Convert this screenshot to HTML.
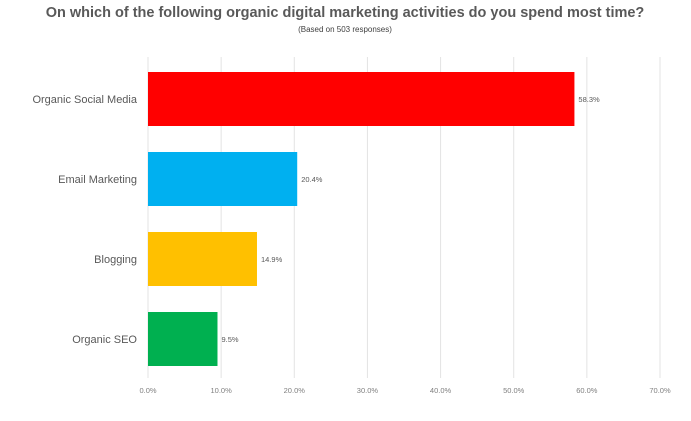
<!DOCTYPE html>
<html><head><meta charset="utf-8"><style>
body{margin:0;background:#fff;font-family:"Liberation Sans",sans-serif;}
</style></head><body>
<svg width="691" height="416" xmlns="http://www.w3.org/2000/svg">
<text x="345" y="17" text-anchor="middle" font-size="14.5" font-weight="bold" fill="#595959">On which of the following organic digital marketing activities do you spend most time?</text>
<text x="345" y="32" text-anchor="middle" font-size="8" fill="#404040">(Based on 503 responses)</text>
<g id="grid"></g><g id="bars"></g>
</svg>
<script>
const categories=["Organic Social Media","Email Marketing","Blogging","Organic SEO"];
const values=[58.3,20.4,14.9,9.5];
const colors=["#ff0000","#00b0f0","#ffc000","#00b050"];
const ticks=[0,10,20,30,40,50,60,70];
const NS="http://www.w3.org/2000/svg";
const x0=148,x1=660,xmax=70;
const xs=v=>x0+(v/xmax)*(x1-x0);
const ys=i=>72+i*80;
const bh=54;
const grid=document.getElementById('grid'),bars=document.getElementById('bars');
ticks.forEach(t=>{
 const l=document.createElementNS(NS,'line');
 
 
 l.setAttribute('x1',xs(t));l.setAttribute('x2',xs(t));l.setAttribute('y1',57);l.setAttribute('y2',378);
 l.setAttribute('stroke','#e3e3e3');l.setAttribute('stroke-width','1');grid.appendChild(l);
 const tx=document.createElementNS(NS,'text');
 
 
 tx.setAttribute('x',xs(t));tx.setAttribute('y',393);tx.setAttribute('text-anchor','middle');
 tx.setAttribute('font-size','7.5');tx.setAttribute('fill','#7f7f7f');tx.textContent=t.toFixed(1)+'%';grid.appendChild(tx);
});
categories.forEach((c,i)=>{
 const r=document.createElementNS(NS,'rect');
 
 
 r.setAttribute('x',xs(0));r.setAttribute('y',ys(i));r.setAttribute('width',xs(values[i])-xs(0));r.setAttribute('height',bh);
 r.setAttribute('fill',colors[i]);bars.appendChild(r);
 const lb=document.createElementNS(NS,'text');
 
 
 lb.setAttribute('x',137);lb.setAttribute('y',ys(i)+bh/2+4);lb.setAttribute('text-anchor','end');
 lb.setAttribute('font-size','11');lb.setAttribute('fill','#595959');lb.textContent=c;bars.appendChild(lb);
 const v=document.createElementNS(NS,'text');
 
 
 v.setAttribute('x',xs(values[i])+4);v.setAttribute('y',ys(i)+bh/2+3);
 v.setAttribute('font-size','7.5');v.setAttribute('fill','#595959');v.textContent=values[i].toFixed(1)+'%';bars.appendChild(v);
});
</script>
</body></html>
